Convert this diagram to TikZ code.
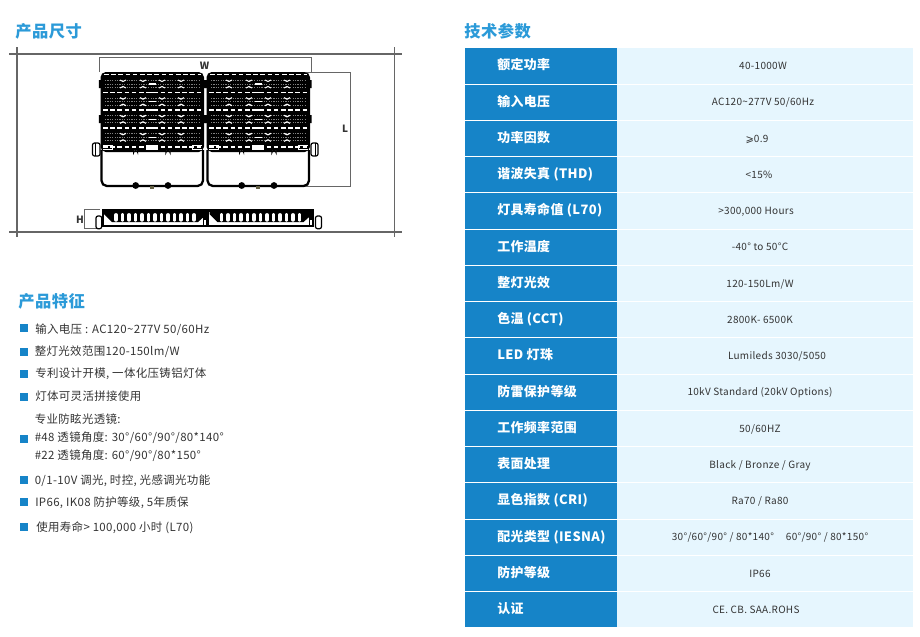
\documentclass[tikz,border=0pt]{standalone}
\usepackage{fontspec}
\setmainfont[LetterSpace=3]{Noto Sans CJK SC}
\newfontfamily\symbfont{DejaVu Sans}
\definecolor{headblue}{HTML}{2B9AD8}
\definecolor{rowblue}{HTML}{1684C8}
\definecolor{rowlight}{HTML}{E6F6FE}
\definecolor{textdark}{HTML}{333333}
\definecolor{framegray}{HTML}{666666}
\begin{document}
\begin{tikzpicture}[x=0.75pt,y=-0.75pt,
            heading/.style={anchor=west,inner sep=0pt,text=headblue,font=\fontsize{12.2}{14}\selectfont\bfseries},
            feature/.style={anchor=base west,inner sep=0pt,text=textdark,yshift=-3.1pt,font=\fontsize{8.6}{10}\selectfont},
            bullet/.style={fill=rowblue,inner sep=0pt,minimum size=6pt},
            key cell/.style={fill=rowblue,inner sep=0pt,minimum width=114pt,minimum height=26.5pt},
            value cell/.style={fill=rowlight,inner sep=0pt,minimum width=222pt,minimum height=26.5pt},
            key/.style={anchor=base west,inner sep=0pt,text=white,yshift=-3.4pt,font=\fontsize{9.7}{11}\selectfont\bfseries},
            value/.style={anchor=base,inner sep=0pt,text=textdark,yshift=-2.7pt,font=\fontsize{7.5}{9}\selectfont},
            dim label/.style={inner sep=0pt,text=textdark,font=\fontsize{7.5}{9}\selectfont\bfseries},
            dim line/.style={draw=framegray,line width=0.6pt},
            frame line/.style={draw=framegray,line width=0.8pt}]

        \useasboundingbox (0,0) rectangle (920,636);

        % Headings
        \node[heading] (sizehead) at (15,31) {产品尺寸};
        \node[heading] (feathead) at (18,301) {产品特征};
        \node[heading] (paramhead) at (464,31) {技术参数};

        % Frame round the drawing
        \draw[frame line] (9,54) -- (402,54);
        \draw[frame line,line width=1.2pt] (9,231.7) -- (402,231.7);
        \draw[frame line] (17,47) -- (17,237);
        \draw[frame line] (394.7,47) -- (394.7,237);

        % Dimension lines
        \coordinate (wleft) at (99,72);
        \coordinate (wright) at (311.3,72);
        \coordinate (ltop) at (306,72);
        \coordinate (lbottom) at (304,186.7);
        \draw[dim line] (wleft) -- (99,57.7) -- (311.3,57.7) -- (wright);
        \draw[dim line] (ltop) -- (350,72) -- (350,186.7) -- (lbottom);
        \draw[dim line] (100,209.5) -- (84,209.5) -- (84,228.7) -- (100,228.7);
        \node[dim label] (wlabel) at (204.5,66) {W};
        \node[dim label] (llabel) at (345,129) {L};
        \node[dim label] (hlabel) at (80,219.5) {H};

        % Front view, two lamps side by side
        \foreach \dx in {0,106}{
            \begin{scope}[shift={(\dx,0)}]
            \draw[black,line width=1.7pt,rounded corners=4pt] (101.5,150) -- (101.5,186) -- (203,186) -- (203,150);
            \fill[black] (135.7,185.5) circle (3.4) (168,185.5) circle (3.4);
            \fill[black!70!yellow] (150,186) rectangle (154,188.5);
            \fill[black,rounded corners=4pt] (100.5,72) rectangle (204,152);
            \fill[black] (98.8,80) rectangle (101,88) (98.8,115) rectangle (101,123);
            \fill[black] (203.5,80) rectangle (205.6,88) (203.5,115) rectangle (205.6,123);
            \foreach \ry in {92.7,110,128,147}
                \draw[white,line width=1.1pt,dash pattern=on 3.4pt off 2pt] (103,\ry) -- (202,\ry);
            \draw[white,line width=0.7pt,dash pattern=on 3.4pt off 2pt] (104,74.5) -- (201,74.5);
            \foreach \ry in {92.7,110,128}
                \draw[white,line width=1.1pt] (146,\ry) -- (158,\ry);
            \fill[white] (146,145) rectangle (158,150);
            \draw[white,line width=0.5pt] (103,149.5) -- (112,149.5) -- (112,145.5) -- (103,145.5) (202,149.5) -- (192,149.5) -- (192,145.5) -- (202,145.5);
            \foreach \cy in {84,101.7,119.3,137.3}{
                \foreach \off in {-3.5,0,3.5}
                    \draw[gray,line width=0.55pt,dash pattern=on 0.9pt off 0.9pt] (105,\cy+\off) -- (200,\cy+\off);
                \foreach \mx in {123,143,162,181}{
                    \draw[white,line width=0.8pt] (\mx-3,\cy-4) -- (\mx,\cy-2.5) -- (\mx+3,\cy-4);
                    \draw[white,line width=0.8pt] (\mx-3,\cy+4) -- (\mx,\cy+2.5) -- (\mx+3,\cy+4);
                }
                \draw[white,line width=0.9pt] (148.5,\cy) -- (155.5,\cy);
            }
            \draw[black,fill=white,line width=0.8pt] (133.7,150) -- (133.7,152.5) arc (180:360:2) -- (137.7,150);
            \draw[black,fill=white,line width=0.8pt] (166,150) -- (166,152.5) arc (180:360:2) -- (170,150);
            \end{scope}
        }
        % Side lugs
        \draw[black,fill=white,line width=0.9pt,rounded corners=1.5pt] (92.5,143) rectangle (100,156);
        \draw[black,line width=0.6pt] (95,143) -- (95,156);
        \draw[black,fill=white,line width=0.9pt,rounded corners=1.5pt] (311,143) rectangle (318,156);
        \draw[black,line width=0.6pt] (315.5,143) -- (315.5,156);

        % Side view
        \foreach \dx in {0,105.5}{
            \begin{scope}[shift={(\dx,0)}]
            \draw[black,fill=white,line width=0.8pt] (103,210) rectangle (207.5,226);
            \fill[black] (103,209) rectangle (207.5,211.5);
            \fill[black] (104,211) -- (207,211) -- (207,214) -- (198,222) -- (112,222) -- (104,214) -- cycle;
            \foreach \fx in {116,122.5,...,198}
                \draw[white,line width=2.9pt,line cap=round] (\fx,215) -- (\fx,219.8);
            \fill[black] (203,214) rectangle (207.5,226);
            \fill[white] (204.3,220) rectangle (206.3,225);
            \end{scope}
        }
        \draw[black,fill=white,line width=0.9pt,rounded corners=1.5pt] (96,216) rectangle (101.7,228.7);
        \draw[black,fill=white,line width=0.9pt,rounded corners=1.5pt] (315.5,216) rectangle (321.5,228.7);

        % Feature list
        \node[bullet] (b1) at (24,328.3) {};
        \node[bullet] (b2) at (24,351.7) {};
        \node[bullet] (b3) at (24,373.7) {};
        \node[bullet] (b4) at (24,397) {};
        \node[bullet] (b5) at (24,439) {};
        \node[bullet] (b6) at (24,480) {};
        \node[bullet] (b7) at (24,502) {};
        \node[bullet] (b8) at (24,527) {};
        \node[feature] (f1) at (35,329) {输入电压 : AC120\textasciitilde277V 50/60Hz};
        \node[feature] (f2) at (34.5,351) {整灯光效范围120-150lm/W};
        \node[feature] (f3) at (35,373) {专利设计开模, 一体化压铸铝灯体};
        \node[feature] (f4) at (35,396) {灯体可灵活拼接使用};
        \node[feature] (f5) at (34.5,419) {专业防眩光透镜:};
        \node[feature] (f6) at (34.5,437) {\#48 透镜角度: 30°/60°/90°/80*140°};
        \node[feature] (f7) at (34.5,455) {\#22 透镜角度: 60°/90°/80*150°};
        \node[feature] (f8) at (34.5,480) {0/1-10V 调光, 时控, 光感调光功能};
        \node[feature] (f9) at (35,502) {IP66, IK08 防护等级, 5年质保};
        \node[feature] (f10) at (36,527) {使用寿命> 100,000 小时 (L70)};

        % Parameter table
        \foreach \i/\keytext/\valx/\valtext in {
            1/额定功率/763/40-1000W,
            2/输入电压/763/{AC120\textasciitilde277V 50/60Hz},
            3/功率因数/757/{{\symbfont ⩾}0.9},
            4/谐波失真 (THD)/759/<15\%,
            5/灯具寿命值 (L70)/756/>300{,}000 Hours,
            6/工作温度/760/-40° to 50°C,
            7/整灯光效/760/{120-150Lm/W},
            8/色温 (CCT)/760/2800K- 6500K,
            9/LED 灯珠/777/{Lumileds 3030/5050},
            10/防雷保护等级/760/10kV Standard (20kV Options),
            11/工作频率范围/760/{50/60HZ},
            12/表面处理/760/{Black / Bronze / Gray},
            13/显色指数 (CRI)/760/{Ra70 / Ra80},
            14/配光类型 (IESNA)/770/{30°/60°/90° / 80*140°\hspace{1.2em}60°/90° / 80*150°},
            15/防护等级/760/IP66,
            16/认证/756/CE. CB. SAA.ROHS}{
            \pgfmathsetmacro{\rowy}{48+36.25*(\i-0.5)}
            \node[key cell] (keycell\i) at (541,\rowy) {};
            \node[value cell] (valcell\i) at (765,\rowy) {};
            \node[key] (key\i) at (497,\rowy-0.7) {\keytext};
            \node[value] (val\i) at (\valx,\rowy) {\valtext};
            \draw[white,line width=0.8pt] (keycell\i.south west) -- (valcell\i.south east);
        }

\end{tikzpicture}
\end{document}
